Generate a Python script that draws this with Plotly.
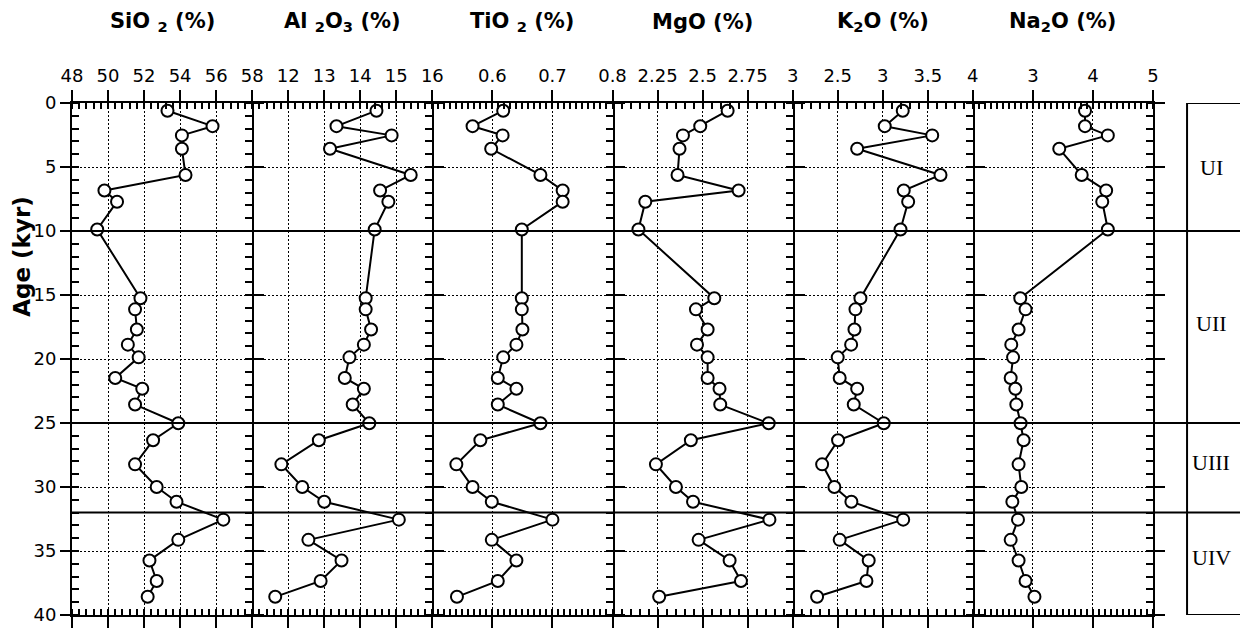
import plotly.graph_objects as go

# ---------------- data ----------------
age = [0.60, 1.81, 2.53, 3.58, 5.62, 6.84, 7.71, 9.88, 15.25, 16.12, 17.69, 18.88, 19.87,
       21.48, 22.33, 23.56, 25.02, 26.35, 28.23, 30.00, 31.15, 32.55, 34.13, 35.74, 37.34, 38.58]
sio2 = [53.3, 55.8, 54.1, 54.1, 54.3, 49.8, 50.5, 49.4, 51.8, 51.5, 51.6, 51.1, 51.7,
        50.4, 51.9, 51.5, 53.9, 52.5, 51.5, 52.7, 53.8, 56.4, 53.9, 52.3, 52.7, 52.2]
al2o3 = [14.45, 13.34, 14.87, 13.16, 15.40, 14.55, 14.78, 14.40, 14.15, 14.15, 14.30, 14.10, 13.70,
         13.57, 14.10, 13.79, 14.25, 12.85, 11.81, 12.39, 13.00, 15.07, 12.56, 13.48, 12.90, 11.64]
tio2 = [0.618, 0.567, 0.617, 0.598, 0.680, 0.717, 0.717, 0.649, 0.649, 0.649, 0.650, 0.640, 0.618,
        0.609, 0.640, 0.609, 0.680, 0.580, 0.540, 0.567, 0.599, 0.700, 0.599, 0.640, 0.609, 0.541]
mgo = [2.639, 2.487, 2.391, 2.372, 2.361, 2.700, 2.182, 2.144, 2.565, 2.463, 2.528, 2.469, 2.528,
       2.528, 2.594, 2.598, 2.867, 2.435, 2.241, 2.352, 2.447, 2.871, 2.478, 2.650, 2.713, 2.259]
k2o = [3.222, 3.022, 3.549, 2.716, 3.641, 3.233, 3.282, 3.197, 2.752, 2.697, 2.686, 2.649, 2.500,
       2.522, 2.716, 2.678, 3.011, 2.504, 2.327, 2.463, 2.652, 3.227, 2.522, 2.844, 2.819, 2.271]
na2o = [3.868, 3.868, 4.248, 3.439, 3.813, 4.220, 4.155, 4.248, 2.790, 2.878, 2.762, 2.640, 2.670,
        2.630, 2.708, 2.724, 2.795, 2.845, 2.762, 2.807, 2.658, 2.752, 2.630, 2.762, 2.878, 3.026]

titles = ["SiO <sub>2</sub> (%)", "Al <sub>2</sub>O<sub>3</sub> (%)", "TiO <sub>2</sub> (%)",
          "MgO (%)", "K<sub>2</sub>O (%)", "Na<sub>2</sub>O (%)"]
x_ranges = [[48, 58], [11, 16], [0.5, 0.8], [2, 3], [2, 4], [2, 5]]
x_tickvals = [[48, 50, 52, 54, 56, 58], [12, 13, 14, 15, 16], [0.6, 0.7, 0.8],
              [2.25, 2.5, 2.75, 3], [2.5, 3, 3.5, 4], [3, 4, 5]]
x_ticktext = [["48", "50", "52", "54", "56", "58"], ["12", "13", "14", "15", "16"],
              ["0.6", "0.7", "0.8"], ["2.25", "2.5", "2.75", "3"], ["2.5", "3", "3.5", "4"],
              ["3", "4", "5"]]
x_minor = [0.4, 0.2, 0.01, 0.05, 0.1, 0.1]

unit_bounds = [10, 25, 32]
unit_names = ["UI", "UII", "UIII", "UIV"]
unit_label_age = [5.0, 17.2, 28.1, 35.5]

series = [sio2, al2o3, tio2, mgo, k2o, na2o]

# ---------------- figure ----------------
fig = go.Figure()
n = len(series)
grid_dash = "2px,2px"
tick_font = dict(family="DejaVu Sans", size=18, color="black")

for i, vals in enumerate(series):
    xa = "x" if i == 0 else f"x{i+1}"
    ya = "y" if i == 0 else f"y{i+1}"
    fig.add_trace(go.Scatter(
        x=vals, y=age, xaxis=xa, yaxis=ya, mode="lines+markers",
        line=dict(color="black", width=2),
        marker=dict(symbol="circle", size=12, color="white",
                    line=dict(color="black", width=2)),
        showlegend=False, cliponaxis=False, hoverinfo="x+y"))

    key = "" if i == 0 else str(i + 1)
    fig.layout["xaxis" + key] = dict(
        domain=[i / n, (i + 1) / n], anchor=ya, side="top", automargin=False,
        range=x_ranges[i], tickmode="array", tickvals=x_tickvals[i], ticktext=x_ticktext[i],
        ticks="outside", ticklen=11, tickwidth=2, tickcolor="black",
        minor=dict(tickmode="linear", dtick=x_minor[i], tick0=x_ranges[i][0], ticks="inside",
                   ticklen=6, tickwidth=1.5, tickcolor="black", showgrid=False),
        showline=True, linewidth=2, linecolor="black", mirror="ticks",
        showgrid=True, gridcolor="black", gridwidth=1.3, griddash=grid_dash,
        zeroline=False, tickfont=tick_font, ticklabelstandoff=1)

    ydict = dict(
        anchor=xa, range=[40, 0], tickmode="linear", tick0=0, dtick=5, automargin=False,
        ticks="outside", ticklen=10, tickwidth=2, tickcolor="black",
        minor=dict(tickmode="linear", dtick=1, tick0=0, ticks="inside", ticklen=7,
                   tickwidth=2, tickcolor="black", showgrid=False),
        showline=True, linewidth=2, linecolor="black",
        showgrid=True, gridcolor="black", gridwidth=1.3, griddash=grid_dash,
        zeroline=False, tickfont=tick_font)
    if i == 0:
        ydict.update(side="left", mirror="ticks", showticklabels=True)
    else:
        ydict.update(side="right", matches="y", showticklabels=False)
    fig.layout["yaxis" + key] = ydict

    fig.add_annotation(text="<b>" + titles[i] + "</b>", xref="paper", yref="paper",
                       x=(i + 0.5) / n, y=1.158, xanchor="center", yanchor="middle",
                       showarrow=False,
                       font=dict(family="DejaVu Sans", size=21, color="black"))

# unit boundaries across the panels and the unit box
for b in unit_bounds:
    fig.add_shape(type="line", xref="paper", yref="y", x0=0, x1=1.2, y0=b, y1=b,
                  line=dict(color="black", width=2))
fig.add_shape(type="rect", xref="paper", yref="y", x0=1.0315, x1=1.2, y0=0, y1=40,
              line=dict(color="black", width=2), fillcolor="rgba(0,0,0,0)")
for name, a in zip(unit_names, unit_label_age):
    fig.add_annotation(text=name, xref="paper", yref="y", x=1.054, y=a,
                       xanchor="center", yanchor="middle", showarrow=False,
                       font=dict(family="Liberation Serif", size=22, color="black"))

fig.add_annotation(text="<b>Age (kyr)</b>", xref="paper", yref="paper", x=-0.047, y=0.70,
                   xanchor="center", yanchor="middle", textangle=-90, showarrow=False,
                   font=dict(family="DejaVu Sans", size=23, color="black"))

fig.update_layout(width=1240, height=628, margin=dict(l=72, r=87, t=103, b=13),
                  plot_bgcolor="white", paper_bgcolor="white", showlegend=False)

fig.write_html("out.html")
